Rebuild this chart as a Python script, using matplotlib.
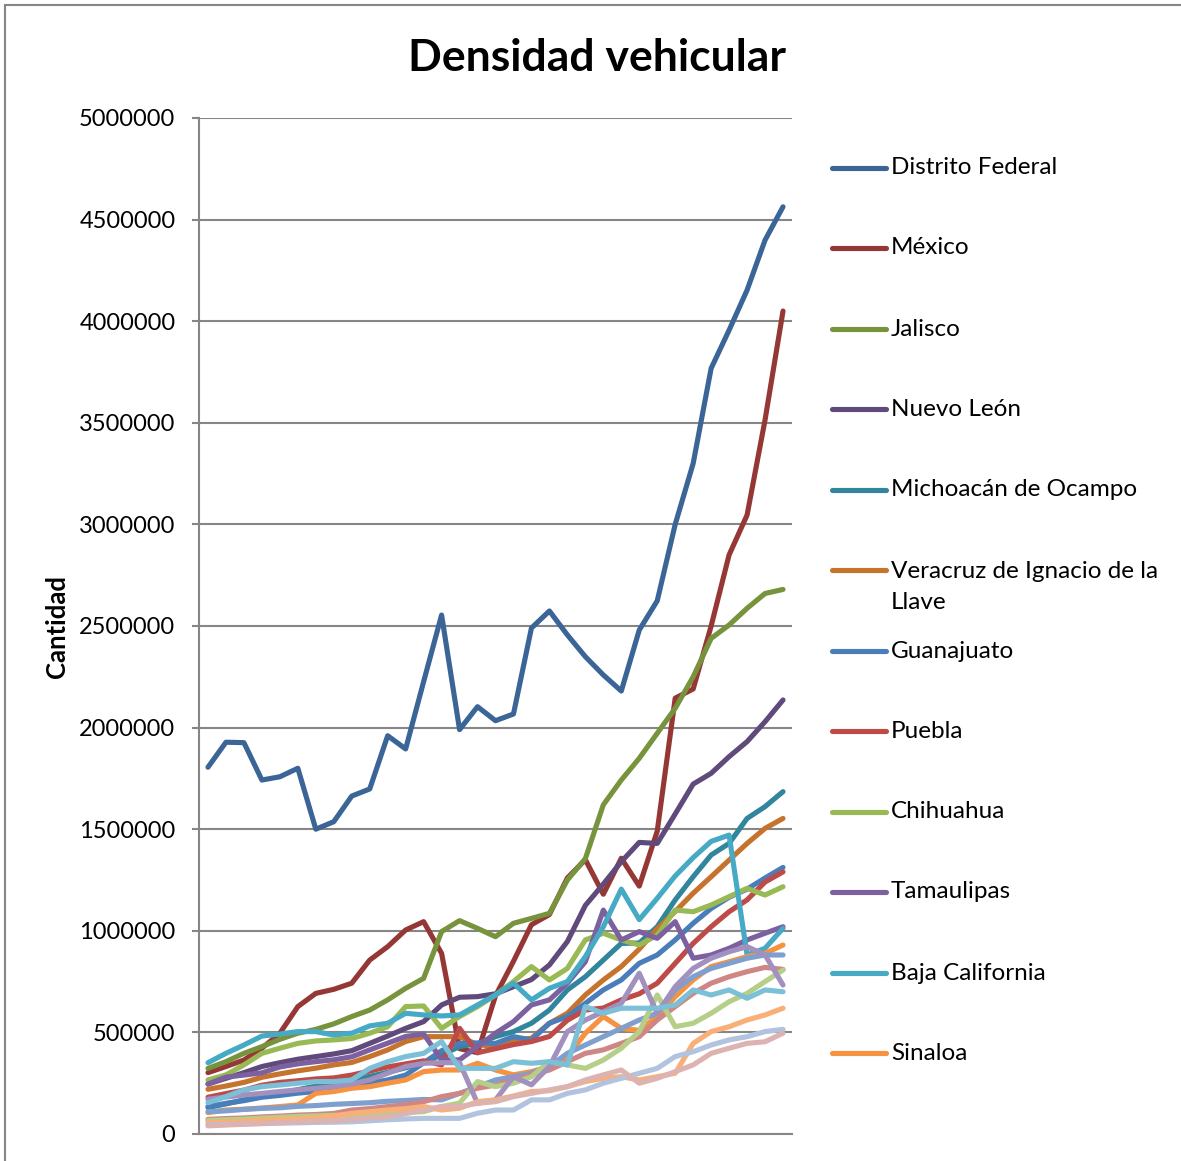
import numpy as np
import matplotlib
matplotlib.use("Agg")
import matplotlib.pyplot as plt
from matplotlib.lines import Line2D
from matplotlib.patches import Rectangle

plt.rcParams['font.family'] = ['Lato', 'DejaVu Sans']

# values in thousands of vehicles, 33 periods
periodos = list(range(1980, 2013))

distrito_federal = [1805, 1928, 1926, 1742, 1758, 1800, 1500, 1537, 1663, 1698, 1960, 1895, 2226, 2554, 1990, 2103, 2034,
                    2067, 2490, 2574, 2456, 2349, 2259, 2180, 2480, 2624, 3000, 3300, 3768, 3956, 4153, 4399, 4563]
mexico = [302, 332, 364, 422, 496, 627, 692, 712, 742, 856, 922, 1004, 1045, 889, 420, 400, 680, 850, 1030, 1080, 1260,
          1350, 1180, 1357, 1220, 1490, 2145, 2190, 2500, 2850, 3046, 3514, 4050]
jalisco = [323, 356, 397, 430, 466, 496, 515, 542, 578, 610, 660, 717, 766, 996, 1050, 1012, 971, 1037, 1061, 1086, 1250,
           1355, 1620, 1742, 1849, 1972, 2095, 2250, 2439, 2505, 2587, 2660, 2680]
nuevo_leon = [246, 274, 302, 332, 351, 368, 381, 394, 410, 446, 482, 520, 553, 635, 673, 676, 690, 725, 760, 832, 947,
              1125, 1230, 1340, 1435, 1430, 1575, 1722, 1775, 1857, 1931, 2029, 2136]
michoacan = [130, 148, 168, 186, 203, 218, 236, 249, 266, 284, 303, 326, 350, 390, 430, 445, 479, 504, 545, 610, 709, 774,
             856, 938, 940, 1020, 1152, 1266, 1373, 1430, 1553, 1611, 1685]
veracruz = [220, 236, 254, 279, 296, 311, 324, 340, 352, 381, 414, 455, 479, 479, 479, 440, 430, 463, 471, 545, 594, 684,
            758, 824, 910, 1010, 1095, 1185, 1266, 1348, 1430, 1504, 1553]
guanajuato = [135, 151, 164, 181, 190, 201, 209, 221, 234, 251, 266, 290, 350, 410, 446, 448, 446, 479, 463, 545, 578, 643,
              709, 758, 840, 881, 955, 1037, 1110, 1165, 1205, 1260, 1312]
puebla = [181, 199, 216, 240, 254, 262, 271, 276, 290, 310, 330, 345, 360, 340, 520, 400, 420, 440, 455, 480, 560, 610,
          620, 660, 690, 742, 840, 938, 1020, 1094, 1152, 1240, 1290]
chihuahua = [266, 291, 340, 397, 422, 446, 458, 463, 470, 496, 528, 627, 630, 520, 578, 627, 684, 750, 824, 758, 815, 955,
             988, 955, 930, 979, 1102, 1094, 1127, 1168, 1209, 1176, 1217]
tamaulipas = [246, 280, 290, 301, 330, 345, 356, 365, 380, 414, 447, 480, 492, 365, 365, 430, 496, 553, 635, 660, 742, 848,
              1102, 955, 996, 963, 1045, 865, 881, 914, 955, 988, 1020]
baja_california = [351, 397, 438, 482, 492, 504, 504, 487, 496, 532, 545, 594, 586, 581, 586, 635, 684, 742, 660, 717, 750,
                   873, 1020, 1205, 1055, 1160, 1270, 1360, 1440, 1471, 881, 914, 1012]
sinaloa = [105, 118, 122, 128, 135, 143, 200, 209, 225, 233, 250, 266, 307, 315, 315, 348, 315, 291, 307, 332, 381, 496,
           578, 520, 510, 578, 676, 758, 824, 848, 873, 889, 930]
# series whose legend entries fall outside the picture
serie_13 = [110, 114, 121, 126, 129, 136, 140, 146, 150, 154, 161, 165, 170, 168, 200, 233, 266, 282, 299, 332, 397, 438,
            479, 520, 561, 594, 709, 774, 815, 840, 865, 881, 881]
serie_14 = [72, 76, 79, 84, 88, 93, 96, 101, 118, 125, 135, 145, 159, 184, 200, 225, 241, 266, 291, 315, 356, 397, 414,
            446, 479, 561, 627, 692, 742, 774, 799, 820, 810]
serie_15 = [66, 70, 73, 78, 82, 86, 89, 92, 94, 98, 102, 105, 110, 135, 152, 258, 233, 250, 282, 356, 340, 323, 364, 422,
            504, 684, 528, 545, 594, 651, 692, 750, 807]
serie_16 = [171, 182, 192, 200, 209, 217, 225, 233, 246, 266, 299, 332, 348, 351, 351, 151, 168, 282, 242, 332, 504, 561,
            602, 643, 791, 594, 725, 815, 865, 897, 922, 881, 733]
serie_17 = [154, 184, 217, 233, 241, 250, 258, 258, 266, 323, 356, 381, 397, 455, 323, 323, 323, 356, 348, 356, 340, 627,
            594, 619, 619, 619, 635, 709, 684, 709, 668, 709, 700]
serie_18 = [56, 60, 63, 68, 72, 75, 80, 88, 102, 110, 118, 125, 135, 118, 127, 159, 168, 187, 209, 213, 233, 258, 274,
            282, 266, 282, 299, 446, 504, 528, 561, 586, 619]
serie_19 = [45, 47, 49, 51, 53, 55, 57, 58, 60, 65, 70, 74, 77, 77, 77, 102, 118, 118, 168, 168, 200, 217, 250, 274, 299,
            323, 381, 405, 438, 463, 479, 504, 515]
serie_20 = [40, 44, 48, 52, 56, 60, 63, 66, 72, 78, 85, 100, 118, 135, 135, 151, 159, 184, 200, 217, 233, 266, 291, 315,
            250, 274, 307, 340, 397, 422, 446, 454, 496]

nombres = ['Distrito Federal', 'México', 'Jalisco', 'Nuevo León', 'Michoacán de Ocampo',
           'Veracruz de Ignacio de la\nLlave', 'Guanajuato', 'Puebla', 'Chihuahua', 'Tamaulipas',
           'Baja California', 'Sinaloa']
series = [distrito_federal, mexico, jalisco, nuevo_leon, michoacan, veracruz, guanajuato, puebla,
          chihuahua, tamaulipas, baja_california, sinaloa,
          serie_13, serie_14, serie_15, serie_16, serie_17, serie_18, serie_19, serie_20]
colores = ['#3A6596', '#953735', '#77933C', '#604A7B', '#31859C', '#C6732E',
           '#4A7EBB', '#BE4B48', '#98B954', '#7D60A0', '#46AAC5', '#F69240',
           '#7F9FCE', '#CF8785', '#B5CE88', '#A290BE', '#7CC0D7', '#F8AF78',
           '#B1C3DE', '#DDB3B2']

W, H = 1181, 1161
fig = plt.figure(figsize=(W / 100, H / 100), dpi=100)

# outer chart border (cut by the picture edges)
fig.add_artist(Rectangle((5 / W, -0.1), 1.2, 1 - 5 / H + 0.1, transform=fig.transFigure,
                         fill=False, edgecolor='#868686', linewidth=1.5))

ax = fig.add_axes([199 / W, 1 - 1134 / H, (792 - 199) / W, (1134 - 118) / H])
x = np.arange(len(periodos))
for s, c in zip(series, colores):
    ax.plot(x, np.array(s) * 1000, color=c, linewidth=3.7,
            solid_joinstyle='round', solid_capstyle='round')

ax.set_xlim(-0.5, len(periodos) - 0.5)
ax.set_ylim(0, 5000000)
ax.set_yticks(np.arange(0, 5000001, 500000))
ax.set_yticklabels([str(v) for v in range(0, 5000001, 500000)], fontsize=17)
ax.set_xticks([])
ax.yaxis.grid(True, color='#868686', linewidth=1.5)
ax.set_axisbelow(True)
for side in ['top', 'right']:
    ax.spines[side].set_visible(False)
for side in ['left', 'bottom']:
    ax.spines[side].set_color('#868686')
    ax.spines[side].set_linewidth(1.5)
ax.tick_params(axis='y', length=5, width=1.5, color='#868686', pad=12)

fig.text(597 / W, 1 - 58 / H, 'Densidad vehicular', fontsize=32, fontweight='bold',
         ha='center', va='center')
fig.text(57 / W, 1 - 627 / H, 'Cantidad', fontsize=18.5, fontweight='bold',
         rotation=90, ha='center', va='center')

# legend (only the first twelve entries fit in the picture)
ley_y = [168, 248, 329, 409, 490, 570, 651, 731, 812, 892, 973, 1053]
for nombre, c, yy in zip(nombres, colores, ley_y):
    fig.add_artist(Line2D([832 / W, 886 / W], [1 - yy / H, 1 - yy / H], transform=fig.transFigure,
                          color=c, linewidth=3.7, solid_capstyle='round'))
    ty = yy + 17 if '\n' in nombre else yy
    fig.text(891 / W, 1 - ty / H, nombre, fontsize=17.5, ha='left', va='center',
             linespacing=1.6)

fig.savefig('out.png', dpi=100)
